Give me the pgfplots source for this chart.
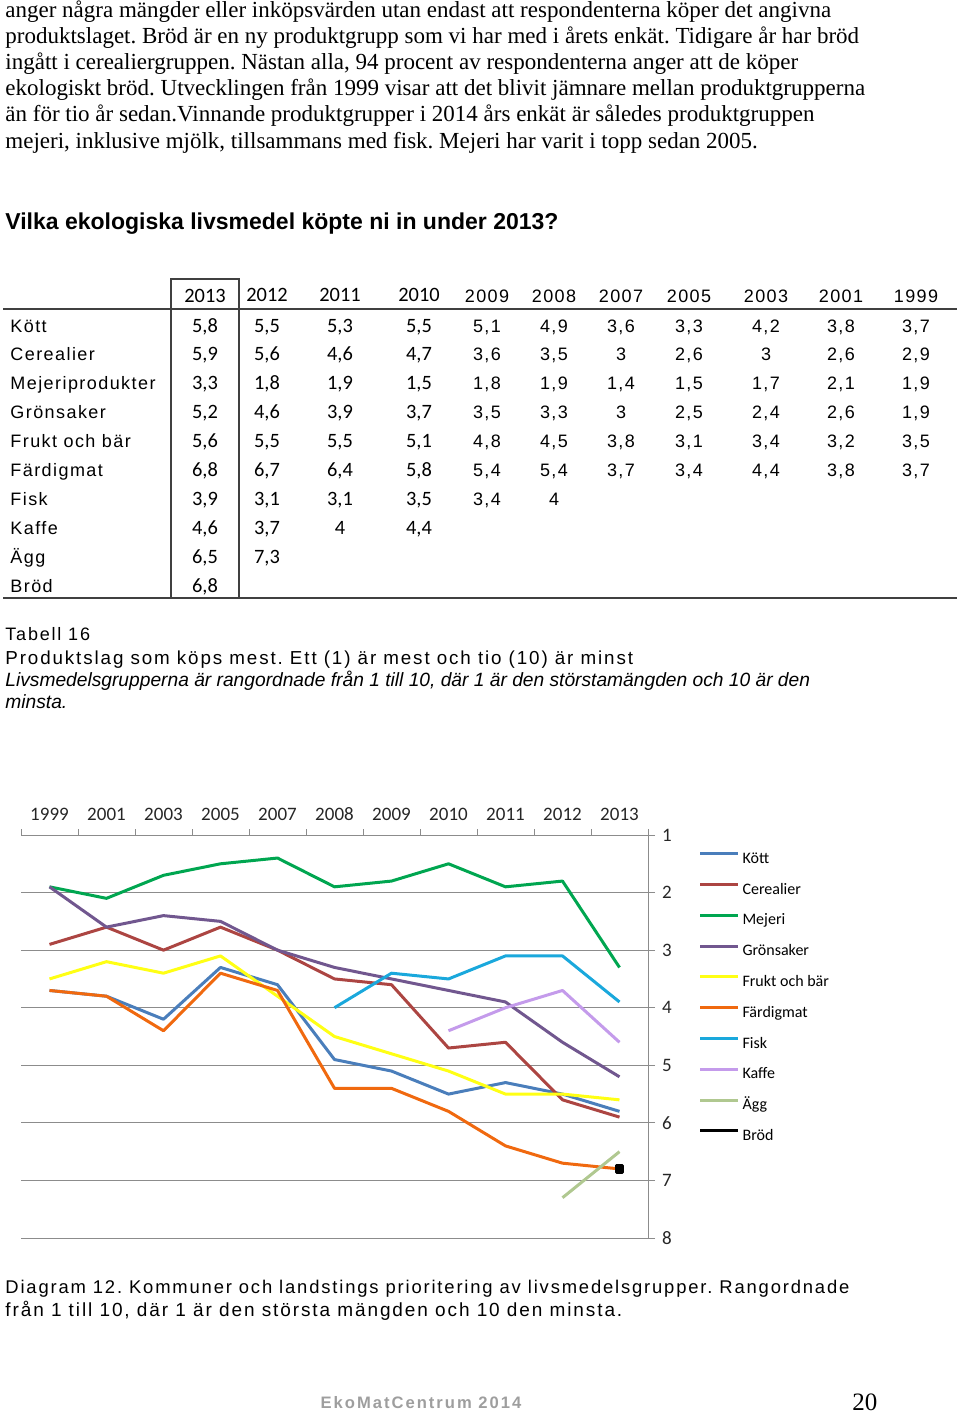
\documentclass[border=0pt]{standalone}
\usepackage{pgfplots}
\pgfplotsset{compat=1.18}
\usepackage{fontspec}
\setmainfont{Liberation Serif}
\newfontfamily\arial{Liberation Sans}
\newfontfamily\tabsp[LetterSpace=8]{Liberation Sans}
\newfontfamily\capsp[LetterSpace=10]{Liberation Sans}
\newfontfamily\footsp[LetterSpace=12]{Liberation Sans}
\newfontfamily\carlito{Carlito}
\frenchspacing
\definecolor{ckott}{HTML}{4A7EBB}
\definecolor{ccer}{HTML}{AC4542}
\definecolor{cmej}{HTML}{00A650}
\definecolor{cgron}{HTML}{71578F}
\definecolor{cfrukt}{HTML}{FFFF14}
\definecolor{cfard}{HTML}{F0690F}
\definecolor{cfisk}{HTML}{1AA8DC}
\definecolor{ckaffe}{HTML}{C49BEB}
\definecolor{cagg}{HTML}{B0C890}
\definecolor{gridc}{HTML}{8C8C8C}
\tikzset{
  lab/.style={anchor=base west, inner sep=0pt, font=\tabsp\fontsize{9}{11}\selectfont},
  ca/.style={anchor=base, inner sep=0pt, font=\carlito\fontsize{10.2}{12}\selectfont},
  cb/.style={anchor=base, inner sep=0pt, font=\tabsp\fontsize{9}{11}\selectfont},
  bt/.style={anchor=base west, inner sep=0pt, font=\fontsize{11.5}{13}\selectfont},
}
\newcommand\rowA[6]{%
  \node[lab] at (10,#1) {#2};
  \node[ca] at (205,#1) {#3};
  \node[ca] at (267,#1) {#4};
  \node[ca] at (340,#1) {#5};
  \node[ca] at (419,#1) {#6};}
\newcommand\rowB[8]{%
  \node[cb] at (487,#1) {#2};
  \node[cb] at (554,#1) {#3};
  \node[cb] at (621,#1) {#4};
  \node[cb] at (689,#1) {#5};
  \node[cb] at (766,#1) {#6};
  \node[cb] at (841,#1) {#7};
  \node[cb] at (916,#1) {#8};}
\begin{document}
\begin{tikzpicture}
\path[use as bounding box] (0pt,0pt) rectangle (480pt,-707pt);
\begin{scope}[x=0.5pt,y=-0.5pt]
% body text
\node[bt] at (5,17.5) {anger några mängder eller inköpsvärden utan endast att respondenterna köper det angivna};
\node[bt] at (5,43.6) {produktslaget. Bröd är en ny produktgrupp som vi har med i årets enkät. Tidigare år har bröd};
\node[bt] at (5,69.7) {ingått i cerealiergruppen. Nästan alla, 94 procent av respondenterna anger att de köper};
\node[bt] at (5,95.8) {ekologiskt bröd. Utvecklingen från 1999 visar att det blivit jämnare mellan produktgrupperna};
\node[bt] at (5,121.9) {än för tio år sedan.Vinnande produktgrupper i 2014 års enkät är således produktgruppen};
\node[bt] at (5,148) {mejeri, inklusive mjölk, tillsammans med fisk. Mejeri har varit i topp sedan 2005.};
% title
\node[anchor=base west, inner sep=0pt, font=\arial\bfseries\fontsize{11.5}{14}\selectfont] at (5,229.5) {Vilka ekologiska livsmedel köpte ni in under 2013?};
% table rules
\draw[line width=0.75pt, black!75] (3,309) -- (957,309);
\draw[line width=0.75pt, black!75] (3,598) -- (957,598);
\draw[line width=0.6pt, black!75] (171,279) rectangle (239,598);
% header
\node[ca] at (205,302) {2013};
\node[ca] at (267,301) {2012};
\node[ca] at (340,301) {2011};
\node[ca] at (419,301) {2010};
\rowB{302}{2009}{2008}{2007}{2005}{2003}{2001}{1999}
% rows
\rowA{332}{Kött}{5,8}{5,5}{5,3}{5,5}
\rowB{332}{5,1}{4,9}{3,6}{3,3}{4,2}{3,8}{3,7}
\rowA{360.9}{Cerealier}{5,9}{5,6}{4,6}{4,7}
\rowB{360.9}{3,6}{3,5}{3}{2,6}{3}{2,6}{2,9}
\rowA{389.8}{Mejeriprodukter}{3,3}{1,8}{1,9}{1,5}
\rowB{389.8}{1,8}{1,9}{1,4}{1,5}{1,7}{2,1}{1,9}
\rowA{418.7}{Grönsaker}{5,2}{4,6}{3,9}{3,7}
\rowB{418.7}{3,5}{3,3}{3}{2,5}{2,4}{2,6}{1,9}
\rowA{447.6}{Frukt och bär}{5,6}{5,5}{5,5}{5,1}
\rowB{447.6}{4,8}{4,5}{3,8}{3,1}{3,4}{3,2}{3,5}
\rowA{476.5}{Färdigmat}{6,8}{6,7}{6,4}{5,8}
\rowB{476.5}{5,4}{5,4}{3,7}{3,4}{4,4}{3,8}{3,7}
\rowA{505.4}{Fisk}{3,9}{3,1}{3,1}{3,5}
\node[cb] at (487,505.4) {3,4};
\node[cb] at (554,505.4) {4};
\rowA{534.3}{Kaffe}{4,6}{3,7}{4}{4,4}
\node[lab] at (10,563.2) {Ägg};
\node[ca] at (205,563.2) {6,5};
\node[ca] at (267,563.2) {7,3};
\node[lab] at (10,592) {Bröd};
\node[ca] at (205,592) {6,8};
% table caption
\node[anchor=base west, inner sep=0pt, font=\capsp\fontsize{9}{11}\selectfont] at (5,640) {Tabell 16};
\node[anchor=base west, inner sep=0pt, font=\capsp\fontsize{9.4}{11}\selectfont] at (5,664) {Produktslag som köps mest. Ett (1) är mest och tio (10) är minst};
\node[anchor=base west, inner sep=0pt, font=\arial\itshape\fontsize{9.6}{11}\selectfont] at (5,686) {Livsmedelsgrupperna är rangordnade från 1 till 10, där 1 är den störstamängden och 10 är den};
\node[anchor=base west, inner sep=0pt, font=\arial\itshape\fontsize{9.6}{11}\selectfont] at (5,708) {minsta.};
% diagram caption
\node[anchor=base west, inner sep=0pt, font=\capsp\fontsize{9.2}{11}\selectfont] at (5,1293) {Diagram 12. Kommuner och landstings prioritering av livsmedelsgrupper. Rangordnade};
\node[anchor=base west, inner sep=0pt, font=\capsp\fontsize{9.5}{11}\selectfont] at (5,1316) {från 1 till 10, där 1 är den största mängden och 10 den minsta.};
% footer
\node[anchor=base, inner sep=0pt, text=black!38, font=\footsp\bfseries\fontsize{8.3}{10}\selectfont] at (421,1408) {EkoMatCentrum 2014};
\node[anchor=base west, inner sep=0pt, font=\fontsize{12.5}{14}\selectfont] at (852,1410) {20};
\end{scope}
\begin{axis}[
  at={(10.5pt,-417.5pt)}, anchor=north west,
  scale only axis, width=313.5pt, height=201.5pt,
  xmin=-0.5, xmax=10.5, ymin=1, ymax=8, y dir=reverse,
  axis x line*=top, axis y line*=right,
  xtick={0,...,10},
  xticklabels={1999,2001,2003,2005,2007,2008,2009,2010,2011,2012,2013},
  minor xtick={-0.5,0.5,...,10.5},
  major x tick style={draw=none},
  ytick={1,...,8},
  ymajorgrids, grid style={draw=gridc, line width=0.5pt},
  axis line style={draw=gridc, line width=0.5pt},
  tick style={draw=gridc, line width=0.5pt},
  tick align=outside,
  major tick length=3.5pt, minor tick length=3pt,
  ticklabel style={font=\carlito\fontsize{9.5}{11}\selectfont, text=black!85},
  /pgf/number format/assume math mode=true,
  legend style={at={(1.080,0.963)}, anchor=north west, draw=none, fill=none,
    inner sep=0pt, row sep=6.9pt, font=\carlito\fontsize{8}{9.6}\selectfont,
    nodes={inner sep=0.5pt, text height=6pt, text depth=1.5pt},
    /tikz/every odd column/.append style={column sep=1pt}},
  legend cell align=left,
  legend image code/.code={\draw[#1, mark=none] (0pt,2.6pt) -- (19pt,2.6pt);},
  clip=false,
  every axis plot/.append style={line width=1.5pt, line join=round},
]
\addplot[ckott] coordinates {(0,3.7)(1,3.8)(2,4.2)(3,3.3)(4,3.6)(5,4.9)(6,5.1)(7,5.5)(8,5.3)(9,5.5)(10,5.8)};
\addlegendentry{Kött}
\addplot[ccer] coordinates {(0,2.9)(1,2.6)(2,3)(3,2.6)(4,3)(5,3.5)(6,3.6)(7,4.7)(8,4.6)(9,5.6)(10,5.9)};
\addlegendentry{Cerealier}
\addplot[cmej] coordinates {(0,1.9)(1,2.1)(2,1.7)(3,1.5)(4,1.4)(5,1.9)(6,1.8)(7,1.5)(8,1.9)(9,1.8)(10,3.3)};
\addlegendentry{Mejeri}
\addplot[cgron] coordinates {(0,1.9)(1,2.6)(2,2.4)(3,2.5)(4,3)(5,3.3)(6,3.5)(7,3.7)(8,3.9)(9,4.6)(10,5.2)};
\addlegendentry{Grönsaker}
\addplot[cfrukt] coordinates {(0,3.5)(1,3.2)(2,3.4)(3,3.1)(4,3.8)(5,4.5)(6,4.8)(7,5.1)(8,5.5)(9,5.5)(10,5.6)};
\addlegendentry{Frukt och bär}
\addplot[cfard] coordinates {(0,3.7)(1,3.8)(2,4.4)(3,3.4)(4,3.7)(5,5.4)(6,5.4)(7,5.8)(8,6.4)(9,6.7)(10,6.8)};
\addlegendentry{Färdigmat}
\addplot[cfisk] coordinates {(5,4)(6,3.4)(7,3.5)(8,3.1)(9,3.1)(10,3.9)};
\addlegendentry{Fisk}
\addplot[ckaffe] coordinates {(7,4.4)(8,4)(9,3.7)(10,4.6)};
\addlegendentry{Kaffe}
\addplot[cagg] coordinates {(9,7.3)(10,6.5)};
\addlegendentry{Ägg}
\addplot[black, mark=square*, mark size=1.6pt] coordinates {(10,6.8)};
\addlegendentry{Bröd}
\end{axis}
\end{tikzpicture}
\end{document}
